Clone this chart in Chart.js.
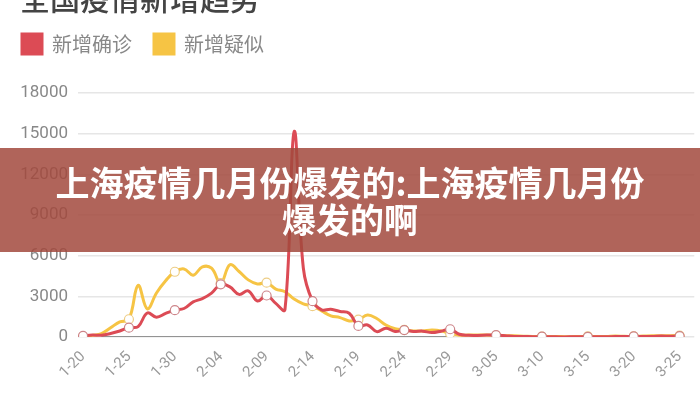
<!DOCTYPE html>
<html>
<head>
<meta charset="utf-8">
<script src="https://cdn.jsdelivr.net/npm/chart.js@4/dist/chart.umd.min.js"></script>
<style>
  html, body { margin: 0; padding: 0; background: #fff; }
  #wrap { position: relative; width: 700px; height: 400px; overflow: hidden; }
  #page-title {
    position: absolute; left: 20px; top: -25px;
    font: 500 30px "Noto Sans CJK SC", sans-serif; color: #444;
    white-space: nowrap;
  }
  #chart-box { position: absolute; left: 0; top: 0; width: 700px; height: 400px; }
  #banner {
    position: absolute; left: 0; top: 148px; width: 700px; height: 104px;
    background: rgba(162, 73, 61, 0.85);
    color: #fff; text-align: center;
    font: bold 34px/37px "Noto Sans CJK SC", sans-serif;
    display: flex; flex-direction: column; justify-content: center;
  }
</style>
</head>
<body>
<div id="wrap">
  <div id="chart-box"><canvas id="trend-chart"></canvas></div>
  <div id="page-title">全国疫情新增趋势</div>
  <div id="banner"><div>上海疫情几月份爆发的:上海疫情几月份</div><div>爆发的啊</div></div>
</div>
<script>
// dates, one per day
const dates = [
  '1-20','1-21','1-22','1-23','1-24','1-25','1-26','1-27','1-28','1-29','1-30','1-31',
  '2-01','2-02','2-03','2-04','2-05','2-06','2-07','2-08','2-09','2-10','2-11','2-12','2-13','2-14',
  '2-15','2-16','2-17','2-18','2-19','2-20','2-21','2-22','2-23','2-24','2-25','2-26','2-27','2-28','2-29',
  '3-01','3-02','3-03','3-04','3-05','3-06','3-07','3-08','3-09','3-10','3-11','3-12','3-13','3-14',
  '3-15','3-16','3-17','3-18','3-19','3-20','3-21','3-22','3-23','3-24','3-25'
];
const tickLabels = ['1-20','1-25','1-30','2-04','2-09','2-14','2-19','2-24','2-29','3-05','3-10','3-15','3-20','3-25'];

// 新增确诊
const confirmed = [
  77, 149, 131, 259, 444, 688, 769, 1771, 1459, 1737, 1982, 2102,
  2590, 2829, 3235, 3887, 3694, 3143, 3399, 2656, 3062, 2478, 2015, 15152, 5090, 2641,
  2009, 2048, 1886, 1749, 820, 889, 397, 648, 409, 508, 406, 433, 327, 427, 573,
  202, 125, 119, 139, 143, 99, 44, 40, 19, 24, 15, 8, 11, 20,
  16, 21, 13, 34, 39, 41, 46, 39, 78, 47, 67
];
// 新增疑似
const suspected = [
  0, 120, 257, 680, 1118, 1309, 3806, 2077, 3248, 4148, 4812, 5019,
  4562, 5173, 5072, 3971, 5328, 4833, 4214, 3916, 4008, 3536, 3342, 2807, 2450, 2277,
  1918, 1563, 1432, 1185, 1277, 1614, 1361, 882, 620, 530, 452, 439, 508, 452, 248,
  132, 141, 143, 143, 102, 99, 84, 60, 36, 31, 33, 33, 17, 39,
  41, 45, 45, 73, 48, 49, 72, 94, 99, 101, 103
];
// gray zero line under the curves (1-22 .. 2-29)
const baseline = [
  null, null, 0, 0, 0, 0, 0, 0, 0, 0, 0, 0,
  0, 0, 0, 0, 0, 0, 0, 0, 0, 0, 0, 0, 0, 0,
  0, 0, 0, 0, 0, 0, 0, 0, 0, 0, 0, 0, 0, 0, 0
];

const RED = '#dc4b55';
const YELLOW = '#f6c444';

const toXY = arr => arr.map((v, i) => ({ x: i, y: v }));
const markEvery5 = ctx => (ctx.dataIndex % 5 === 0 ? 4.5 : 0);

new Chart(document.getElementById('trend-chart'), {
  type: 'line',
  data: {
    datasets: [
      {
        label: '新增确诊',
        data: toXY(confirmed),
        borderColor: RED,
        backgroundColor: RED,
        borderWidth: 3,
        tension: 0.4,
        pointRadius: markEvery5,
        pointBackgroundColor: '#fff',
        pointBorderColor: 'rgba(200, 120, 125, 0.9)',
        pointBorderWidth: 1.2
      },
      {
        label: '新增疑似',
        data: toXY(suspected),
        borderColor: YELLOW,
        backgroundColor: YELLOW,
        borderWidth: 3,
        tension: 0.4,
        pointRadius: markEvery5,
        pointBackgroundColor: '#fff',
        pointBorderColor: 'rgba(235, 200, 120, 0.9)',
        pointBorderWidth: 1.2
      },
      {
        label: 'base',
        data: toXY(baseline),
        borderColor: '#777',
        borderWidth: 1.5,
        pointRadius: 0,
        tension: 0
      }
    ]
  },
  options: {
    responsive: true,
    maintainAspectRatio: false,
    animation: false,
    layout: { padding: { top: 12, right: 0, left: 0, bottom: 0 } },
    scales: {
      x: {
        type: 'linear',
        min: -0.55,
        max: 66.6,
        grid: { display: false },
        border: { display: false },
        afterBuildTicks: (scale) => {
          scale.ticks = tickLabels.map(t => ({ value: dates.indexOf(t) }));
        },
        afterFit: (scale) => { scale.height = 63; },
        ticks: {
          autoSkip: false,
          minRotation: 45,
          maxRotation: 45,
          color: '#999',
          font: { family: 'Roboto', size: 15 },
          callback: (v) => dates[v]
        }
      },
      y: {
        min: 0,
        max: 18000,
        grid: { color: '#e6e6e6', lineWidth: 1.5, drawTicks: false },
        border: { display: false },
        afterFit: (scale) => { scale.width = 78; },
        ticks: {
          stepSize: 3000,
          padding: 10,
          color: '#888',
          font: { family: 'Roboto', size: 17 },
          callback: (v) => String(v)
        }
      }
    },
    plugins: {
      title: { display: false },
      // empty spacer between legend and plot
      subtitle: {
        display: true,
        text: ' ',
        weight: 500,
        font: { size: 10 },
        padding: { top: 0, bottom: 17 }
      },
      tooltip: { enabled: false },
      legend: {
        display: true,
        position: 'top',
        align: 'start',
        labels: {
          filter: (item) => item.datasetIndex < 2,
          boxWidth: 20,
          boxHeight: 20,
          padding: 22,
          color: '#888',
          font: { family: "'Noto Sans CJK SC'", size: 20 }
        }
      }
    }
  }
});
</script>
</body>
</html>
